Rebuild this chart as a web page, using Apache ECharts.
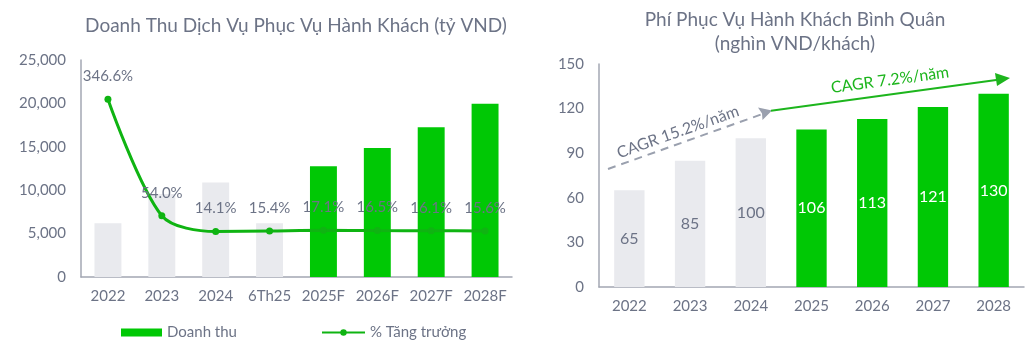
<!DOCTYPE html>
<html>
<head>
<meta charset="utf-8">
<script src="https://cdn.jsdelivr.net/npm/echarts@6/dist/echarts.min.js"></script>
<style>
html,body{margin:0;padding:0;background:#fff;}
#c{width:1032px;height:342px;}
</style>
</head>
<body>
<div id="c"></div>
<script>
// ---- Data ----
const revCategories = ['2022', '2023', '2024', '6Th25', '2025F', '2026F', '2027F', '2028F'];
const revenue = [6200, 9550, 10900, 6200, 12750, 14850, 17250, 19950];
const growth = [346.6, 54.0, 14.1, 15.4, 17.1, 16.5, 16.1, 15.6];
const revForecastStart = 4;
const revTicks = [0, 5000, 10000, 15000, 20000, 25000];

const feeCategories = ['2022', '2023', '2024', '2025', '2026', '2027', '2028'];
const fee = [65, 85, 100, 106, 113, 121, 130];
const feeForecastStart = 3;
const feeTicks = [0, 30, 60, 90, 120, 150];

const cagrHist = 'CAGR 15.2%/năm';
const cagrFcst = 'CAGR 7.2%/năm';

// ---- Style ----
const FONT = 'Lato';
const TXT = '#6c7386';
const AXIS = '#a3a7b3';
const GREEN = '#00c805';
const LINEG = '#0fb412';
const GRAY = '#e9eaee';

const chart = echarts.init(document.getElementById('c'), null, {renderer: 'canvas'});

const revData = revenue.map((v, i) => i < revForecastStart ? {value: v, itemStyle: {color: GRAY}} : v);
const feeData = fee.map((v, i) => i < feeForecastStart
  ? {value: v, itemStyle: {color: GRAY}, label: {color: TXT}}
  : v);

const option = {
  animation: false,
  textStyle: {fontFamily: FONT},
  title: [
    {text: 'Doanh Thu Dịch Vụ Phục Vụ Hành Khách (tỷ VND)', left: 291, top: 11, textAlign: 'center',
     textStyle: {fontFamily: FONT, fontSize: 19, fontWeight: 'normal', color: TXT}},
    {text: 'Phí Phục Vụ Hành Khách Bình Quân\n(nghìn VND/khách)', left: 790, top: 3, textAlign: 'center',
     textStyle: {fontFamily: FONT, fontSize: 19, fontWeight: 'normal', color: TXT, lineHeight: 24}}
  ],
  legend: [
    {data: [{name: 'Doanh thu', icon: 'rect'}], left: 116, top: 320, itemWidth: 41, itemHeight: 8, itemGap: 4,
     textStyle: {fontFamily: FONT, fontSize: 15, color: TXT}},
    {data: ['% Tăng trưởng'], left: 316, top: 320, itemWidth: 43, itemHeight: 8,
     textStyle: {fontFamily: FONT, fontSize: 15, color: TXT}}
  ],
  grid: [
    {left: 81, top: 60, width: 431, height: 217},
    {left: 599, top: 64, width: 425, height: 223}
  ],
  xAxis: [
    {type: 'category', gridIndex: 0, data: revCategories,
     axisLine: {lineStyle: {color: AXIS, width: 1.5}}, axisTick: {show: false},
     axisLabel: {color: TXT, fontSize: 15, margin: 12, fontFamily: FONT, interval: 0}},
    {type: 'category', gridIndex: 1, data: feeCategories,
     axisLine: {lineStyle: {color: AXIS, width: 1.5}}, axisTick: {show: false},
     axisLabel: {color: TXT, fontSize: 15, margin: 12, fontFamily: FONT, interval: 0}}
  ],
  yAxis: [
    {type: 'value', gridIndex: 0, min: revTicks[0], max: revTicks[revTicks.length - 1], interval: revTicks[1] - revTicks[0],
     axisLine: {show: true, lineStyle: {color: AXIS, width: 1.5}}, axisTick: {show: false}, splitLine: {show: false},
     axisLabel: {color: TXT, fontSize: 15, margin: 15, fontFamily: FONT,
                 formatter: v => v.toLocaleString('en-US')}},
    {type: 'value', gridIndex: 0, min: -100, max: 445, show: false, splitLine: {show: false}},
    {type: 'value', gridIndex: 1, min: feeTicks[0], max: feeTicks[feeTicks.length - 1], interval: feeTicks[1] - feeTicks[0],
     axisLine: {show: true, lineStyle: {color: AXIS, width: 1.5}}, axisTick: {show: false}, splitLine: {show: false},
     axisLabel: {color: TXT, fontSize: 15, margin: 15, fontFamily: FONT}}
  ],
  series: [
    {name: 'Doanh thu', type: 'bar', xAxisIndex: 0, yAxisIndex: 0, data: revData, barWidth: '50%',
     itemStyle: {color: GREEN}, z: 2},
    {name: '% Tăng trưởng', type: 'line', xAxisIndex: 0, yAxisIndex: 1, data: growth, smooth: 0.3,
     symbol: 'circle', symbolSize: 7, lineStyle: {color: LINEG, width: 3}, itemStyle: {color: LINEG}, z: 5,
     label: {show: true, position: 'top', distance: 12, color: TXT, fontSize: 15, fontFamily: FONT,
             formatter: p => p.value.toFixed(1) + '%'}},
    {name: 'Phí', type: 'bar', xAxisIndex: 1, yAxisIndex: 2, data: feeData, barWidth: '50%',
     itemStyle: {color: GREEN},
     label: {show: true, position: 'inside', color: '#ffffff', fontSize: 16, fontFamily: FONT}}
  ],
  graphic: [
    // historical CAGR dashed arrow
    {type: 'line', shape: {x1: 608, y1: 169, x2: 768, y2: 112},
     style: {stroke: '#9aa0ae', lineWidth: 2, lineDash: [8, 6]}, z: 10},
    {type: 'polygon', shape: {points: [[772, 110.6], [758, 107.5], [762, 113.5], [762.5, 120]]},
     style: {fill: '#9aa0ae'}, z: 10},
    {type: 'text', x: 678, y: 132, rotation: 0.343,
     style: {text: cagrHist, fontFamily: FONT, fontSize: 16, fill: TXT, align: 'center', verticalAlign: 'middle'}, z: 10},
    // forecast CAGR solid arrow
    {type: 'line', shape: {x1: 771, y1: 110.7, x2: 998, y2: 79.7},
     style: {stroke: '#1db51d', lineWidth: 2}, z: 10},
    {type: 'polygon', shape: {points: [[1010, 78], [995, 73], [997, 86]]},
     style: {fill: '#1db51d'}, z: 10},
    {type: 'text', x: 890, y: 80, rotation: 0.134,
     style: {text: cagrFcst, fontFamily: FONT, fontSize: 16, fill: '#1db51d', align: 'center', verticalAlign: 'middle'}, z: 10}
  ]
};
chart.setOption(option);
</script>
</body>
</html>
